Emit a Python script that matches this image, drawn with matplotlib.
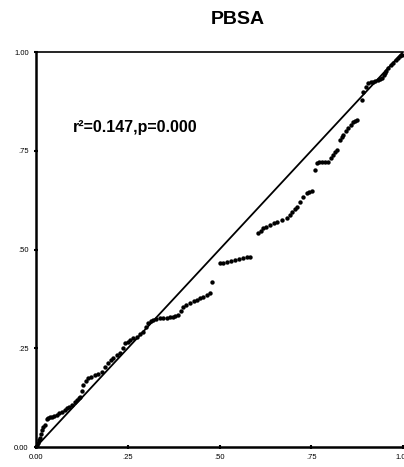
import matplotlib
matplotlib.use("Agg")
import matplotlib.pyplot as plt

obs_cum = [0.003, 0.005, 0.008, 0.011, 0.014, 0.016, 0.020, 0.025, 0.030, 0.033,
           0.038, 0.044, 0.050, 0.057, 0.064, 0.071, 0.078, 0.084, 0.091, 0.098,
           0.105, 0.112, 0.116, 0.120, 0.124, 0.128, 0.135, 0.142, 0.150, 0.161,
           0.170, 0.180, 0.188, 0.196, 0.203, 0.210, 0.220, 0.229, 0.236, 0.243,
           0.250, 0.256, 0.265, 0.275, 0.284, 0.292, 0.299, 0.305, 0.312, 0.319,
           0.328, 0.338, 0.347, 0.357, 0.365, 0.373, 0.380, 0.387, 0.394, 0.401,
           0.410, 0.420, 0.430, 0.439, 0.447, 0.455, 0.465, 0.474, 0.480, 0.501,
           0.510, 0.520, 0.531, 0.542, 0.553, 0.564, 0.574, 0.583, 0.605, 0.612,
           0.619, 0.628, 0.638, 0.648, 0.657, 0.670, 0.684, 0.691, 0.698, 0.705,
           0.711, 0.719, 0.728, 0.738, 0.745, 0.752, 0.760, 0.766, 0.772, 0.779,
           0.788, 0.796, 0.803, 0.809, 0.815, 0.820, 0.828, 0.833, 0.837, 0.844,
           0.850, 0.857, 0.864, 0.870, 0.875, 0.888, 0.891, 0.898, 0.905, 0.912,
           0.918, 0.925, 0.932, 0.938, 0.943, 0.947, 0.951, 0.955, 0.959, 0.966,
           0.973, 0.980, 0.986, 0.992, 0.997]
exp_cum = [0.005, 0.010, 0.017, 0.023, 0.033, 0.043, 0.050, 0.056, 0.070, 0.073,
           0.075, 0.076, 0.078, 0.081, 0.085, 0.089, 0.094, 0.099, 0.102, 0.106,
           0.113, 0.119, 0.123, 0.127, 0.142, 0.157, 0.168, 0.175, 0.178, 0.182,
           0.186, 0.190, 0.202, 0.213, 0.220, 0.225, 0.232, 0.238, 0.250, 0.263,
           0.267, 0.271, 0.275, 0.278, 0.285, 0.291, 0.303, 0.314, 0.319, 0.322,
           0.325, 0.327, 0.327, 0.327, 0.328, 0.329, 0.331, 0.334, 0.344, 0.354,
           0.360, 0.365, 0.369, 0.372, 0.376, 0.380, 0.385, 0.390, 0.418, 0.466,
           0.467, 0.468, 0.470, 0.473, 0.476, 0.478, 0.480, 0.481, 0.542, 0.548,
           0.554, 0.558, 0.562, 0.566, 0.570, 0.575, 0.580, 0.588, 0.595, 0.602,
           0.608, 0.620, 0.632, 0.643, 0.646, 0.648, 0.701, 0.719, 0.721, 0.722,
           0.722, 0.722, 0.731, 0.739, 0.746, 0.752, 0.777, 0.784, 0.790, 0.799,
           0.808, 0.816, 0.823, 0.826, 0.828, 0.878, 0.899, 0.911, 0.922, 0.923,
           0.924, 0.927, 0.929, 0.932, 0.934, 0.941, 0.947, 0.953, 0.959, 0.966,
           0.972, 0.979, 0.985, 0.989, 0.992]
ref_line = [0.0, 1.0]
tick_vals = [0.0, 0.25, 0.5, 0.75, 1.0]
tick_labels = ["0.00", ".25", ".50", ".75", "1.00"]
title = "PBSA"
annotation = "r²=0.147,p=0.000"

plt.rcParams['font.family'] = ['Liberation Sans', 'DejaVu Sans']

fig = plt.figure(figsize=(4.04, 4.67), dpi=100)
ax = fig.add_axes([36/404, 20/467, 367/404, 395/467])

ax.plot(ref_line, ref_line, color='black', lw=1.3, zorder=2)
ax.scatter(obs_cum, exp_cum, s=10, marker='o', color='black', linewidths=0, zorder=3)

ax.set_xlim(0, 1)
ax.set_ylim(0, 1)
ax.set_xticks(tick_vals)
ax.set_xticklabels(tick_labels)
ax.set_yticks(tick_vals)
ax.set_yticklabels(tick_labels)
ax.tick_params(axis='both', labelsize=5.5, length=2.5, width=1.5, direction='inout', pad=4)

for side in ['left', 'bottom']:
    ax.spines[side].set_linewidth(1.8)
ax.spines['top'].set_linewidth(1.2)
ax.spines['right'].set_visible(False)

ax.text(0.10, 0.81, annotation, fontsize=11.5, fontweight='bold', ha='left', va='center',
        transform=ax.transData)

fig.text(238/404, 1 - 20/467, title, fontsize=14, fontweight='bold', ha='center', va='center')

fig.savefig("out.png", dpi=100)
